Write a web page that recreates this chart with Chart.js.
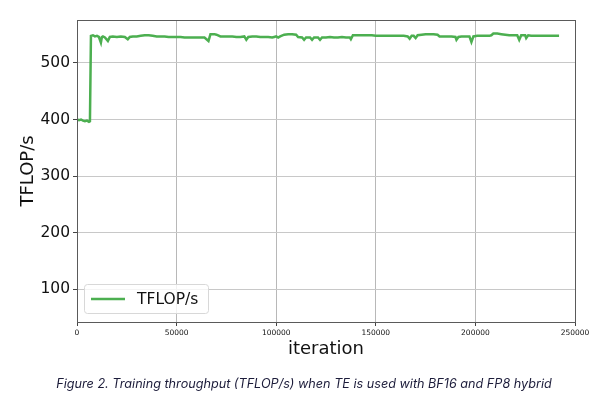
<!DOCTYPE html>
<html>
<head>
<meta charset="utf-8">
<script src="https://cdn.jsdelivr.net/npm/chart.js@4.4.1/dist/chart.umd.min.js"></script>
<style>
  html, body { margin: 0; padding: 0; background: #fff; }
  #wrap { position: relative; width: 604px; height: 397px; overflow: hidden; }
  #c { position: absolute; left: 0; top: 0; }
  #caption { position: absolute; left: 0; width: 604px; top: 376px; text-align: center;
    font-family: "Inter", "Open Sans", sans-serif; font-style: italic; font-size: 12.65px;
    color: #1c1c3a; padding-left: 4px; box-sizing: border-box; white-space: nowrap; }
</style>
</head>
<body>
<div id="wrap">
  <canvas id="c" width="604" height="397"></canvas>
  <div id="caption">Figure 2. Training throughput (TFLOP/s) when TE is used with BF16 and FP8 hybrid</div>
</div>
<script>
const seriesLabel = "TFLOP/s";
const xTitle = "iteration";
const yTitle = "TFLOP/s";
const yTickValues = [100, 200, 300, 400, 500];
const xTickValues = [0, 50000, 100000, 150000, 200000, 250000];

const iterations = [
  0, 1000, 2000, 3000, 4000, 5000, 6000, 6500, 7000, 8000, 9000, 10000, 11000, 12000, 12500, 13000,
  14000, 15500, 16500, 18000, 20000, 22000, 24000, 25500, 26500, 28000, 30000, 32000, 34000, 36000,
  38000, 40000, 42000, 44000, 46000, 48000, 50000, 52000, 54000, 56000, 58000, 60000, 62000, 64000,
  66000, 66500, 67000, 69000, 70000, 72000, 74000, 76000, 78000, 80000, 82000, 84000, 85000, 86000,
  88000, 90000, 92000, 94000, 96000, 98000, 99000, 100000, 101000, 102000, 104000, 106000, 108000,
  110000, 111000, 113000, 114000, 115000, 117000, 118000, 119000, 121000, 122000, 123000, 125000,
  127000, 129000, 131000, 133000, 135000, 137000, 137500, 138500, 140000, 142000, 144000, 146000,
  148000, 150000, 152000, 154000, 156000, 158000, 160000, 162000, 164000, 166000, 167000, 168000,
  169000, 170000, 171000, 173000, 175000, 177000, 179000, 181000, 182000, 184000, 186000, 188000,
  190000, 190500, 191500, 193000, 195000, 197000, 198000, 199000, 201000, 203000, 205000, 207000,
  208000, 209000, 211000, 213000, 215000, 217000, 219000, 221000, 222000, 223000, 225000, 225500,
  226500, 228000, 230000, 232000, 234000, 236000, 238000, 240000, 242000
];
const tflops = [
  400, 399, 400, 398, 397, 398, 396, 397, 548, 549, 547, 548, 546, 536, 546, 547,
  545, 539, 546, 547, 546, 547, 546, 542, 546, 547, 547, 548, 549, 549,
  548, 547, 547, 547, 546, 546, 546, 546, 545, 545, 545, 545, 545, 545,
  539, 545, 551, 551, 550, 547, 547, 547, 547, 546, 546, 547, 541, 546,
  547, 547, 546, 546, 546, 545, 546, 547, 545, 547, 550, 551, 551,
  550, 546, 545, 541, 545, 545, 541, 545, 545, 541, 545, 545,
  546, 545, 545, 546, 545, 545, 542, 549, 549, 549, 549, 549,
  549, 548, 548, 548, 548, 548, 548, 548, 548, 547, 543, 548,
  548, 544, 549, 550, 551, 551, 551, 550, 547, 547, 547, 547,
  546, 541, 546, 547, 547, 547, 537, 547, 548, 548, 548, 548,
  549, 552, 552, 551, 550, 549, 549, 549, 541, 549, 549, 544,
  549, 548, 548, 548, 548, 548, 548, 548, 548
];

const framePlugin = {
  id: 'frame',
  afterDatasetsDraw(chart) {
    const a = chart.chartArea, ctx = chart.ctx;
    ctx.save();
    ctx.strokeStyle = '#5a5a5a';
    ctx.lineWidth = 1;
    ctx.strokeRect(Math.round(a.left) + 0.5, Math.round(a.top) + 0.5,
                   Math.round(a.right - a.left), Math.round(a.bottom - a.top));
    ctx.restore();
  },
  afterDraw(chart) {
    const a = chart.chartArea, ctx = chart.ctx;
    const ds = chart.data.datasets[0];
    const x = a.left + 7, y = a.bottom - 38, w = 124, h = 29, r = 3;
    ctx.save();
    ctx.fillStyle = 'rgba(255,255,255,0.8)';
    ctx.strokeStyle = '#d8d8d8';
    ctx.lineWidth = 1;
    ctx.beginPath();
    ctx.roundRect(x + 0.5, y + 0.5, w, h, r);
    ctx.fill();
    ctx.stroke();
    ctx.strokeStyle = ds.borderColor;
    ctx.lineWidth = 2.5;
    ctx.beginPath();
    ctx.moveTo(x + 7, y + h / 2 + 0.5);
    ctx.lineTo(x + 41, y + h / 2 + 0.5);
    ctx.stroke();
    ctx.fillStyle = '#111';
    ctx.font = '15.5px "DejaVu Sans"';
    ctx.textBaseline = 'middle';
    ctx.fillText(ds.label, x + 53, y + h / 2 + 1);
    ctx.restore();
  }
};

new Chart(document.getElementById('c'), {
  type: 'line',
  data: {
    datasets: [{
      label: seriesLabel,
      data: iterations.map((it, i) => ({ x: it, y: tflops[i] })),
      borderColor: '#4caf50',
      backgroundColor: '#4caf50',
      borderWidth: 2.5,
      pointRadius: 0,
      tension: 0,
      fill: false
    }]
  },
  options: {
    responsive: false,
    animation: false,
    layout: { padding: { left: 0, right: 29, top: 20, bottom: 37 } },
    plugins: { legend: { display: false }, tooltip: { enabled: false } },
    scales: {
      x: {
        type: 'linear',
        min: 0, max: 250000,
        afterBuildTicks: s => { s.ticks = xTickValues.map(v => ({ value: v })); },
        afterFit: s => { s.height = 38; },
        grid: { color: '#b8b8b8', lineWidth: 1, tickLength: 4, tickColor: '#444', drawTicks: true },
        border: { display: false },
        ticks: {
          color: '#111', padding: 3, maxRotation: 0,
          font: { family: 'DejaVu Sans', size: 7.5 },
          callback: v => String(v)
        },
        title: { display: true, text: xTitle, color: '#111',
                 font: { family: 'DejaVu Sans', size: 18 }, padding: { top: 0, bottom: 0 } }
      },
      y: {
        type: 'linear',
        min: 42, max: 576,
        afterBuildTicks: s => { s.ticks = yTickValues.map(v => ({ value: v })); },
        afterFit: s => { s.width = 77; },
        grid: { color: '#c8c8c8', lineWidth: 1, tickLength: 4, tickColor: '#444', drawTicks: true },
        border: { display: false },
        ticks: {
          color: '#111', padding: 3,
          font: { family: 'DejaVu Sans', size: 15.5 },
          callback: v => String(v)
        },
        title: { display: true, text: yTitle, color: '#111',
                 font: { family: 'DejaVu Sans', size: 18 }, padding: { top: 18, bottom: 0 } }
      }
    }
  },
  plugins: [framePlugin]
});
</script>
</body>
</html>
